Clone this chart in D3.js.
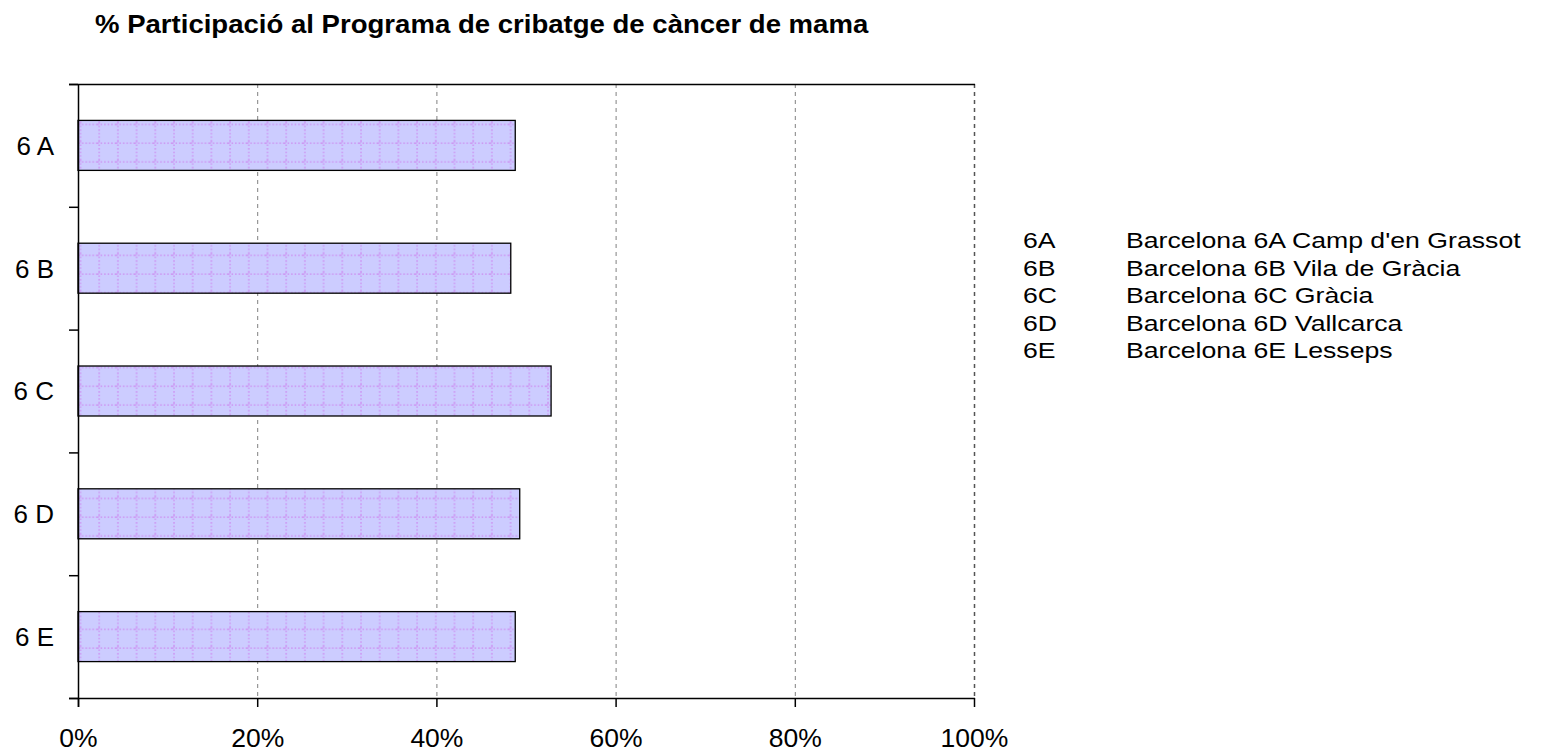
<!DOCTYPE html>
<html>
<head>
<meta charset="utf-8">
<script src="https://cdn.jsdelivr.net/npm/d3@7"></script>
<style>
  body { margin: 0; background: #fff; }
  svg { font-family: "Liberation Sans", Arial, sans-serif; }
</style>
</head>
<body>
<div id="chart"></div>
<script>
	const categories = ["6 A", "6 B", "6 C", "6 D", "6 E"];
	const values = [48.8, 48.3, 52.8, 49.3, 48.8];
	const xTicks = [0, 20, 40, 60, 80, 100];
	const legendCodes = ["6A", "6B", "6C", "6D", "6E"];
	const legendNames = ["Barcelona 6A Camp d'en Grassot", "Barcelona 6B Vila de Gràcia",
		"Barcelona 6C Gràcia", "Barcelona 6D Vallcarca", "Barcelona 6E Lesseps"];

	const W = 1543, H = 754;
	const margin = {top: 84, left: 78};
	const width = 896, height = 614;

	const svg = d3.select("#chart")
	  .append("svg")
	    .attr("width", W)
	    .attr("height", H);

	// bar fill pattern: lilac with dotted grid
	const pat = svg.append("defs").append("pattern")
	    .attr("id", "grid")
	    .attr("patternUnits", "userSpaceOnUse")
	    .attr("width", 18.7)
	    .attr("height", 18.7)
	    .attr("x", 0.5)
	    .attr("y", 1);
	pat.append("rect").attr("width", 18.7).attr("height", 18.7).attr("fill", "#ccccff");
	pat.append("line").attr("x1", 0).attr("x2", 18.7).attr("y1", 2).attr("y2", 2)
	    .attr("stroke", "#cc88f0").attr("stroke-width", 1.2).attr("stroke-dasharray", "1.5,2");
	pat.append("line").attr("x1", 2).attr("x2", 2).attr("y1", 0).attr("y2", 18.7)
	    .attr("stroke", "#cc88f0").attr("stroke-width", 1.2).attr("stroke-dasharray", "1.5,2");

	// title (slightly stretched horizontally as in the original)
	svg.append("text")
	    .attr("transform", "translate(95,33) scale(1.06,1)")
	    .attr("font-size", 26)
	    .attr("font-weight", "bold")
	    .text("% Participació al Programa de cribatge de càncer de mama");

	const g = svg.append("g")
	    .attr("transform", `translate(${margin.left},${margin.top})`);

	const x = d3.scaleLinear()
	  .domain([0, 100])
	  .range([0, width]);

	const y = d3.scaleBand()
	  .domain(categories)
	  .range([0, height])
	  .paddingInner(0.593)
	  .paddingOuter(0.2965);

	// gridlines
	g.selectAll(".grid")
	  .data(xTicks.filter(d => d > 0))
	  .join("line")
	    .attr("x1", d => x(d) + 0.5)
	    .attr("x2", d => x(d) + 0.5)
	    .attr("y1", 0)
	    .attr("y2", height)
	    .attr("stroke", d => d === 100 ? "#555" : "#808080")
	    .attr("stroke-width", d => d === 100 ? 1.5 : 1)
	    .attr("stroke-dasharray", "4,4");

	// top border
	g.append("line")
	    .attr("x1", -9).attr("x2", width + 1)
	    .attr("y1", 0.5).attr("y2", 0.5)
	    .attr("stroke", "#000").attr("stroke-width", 1.5);

	// bars
	g.selectAll(".bar")
	  .data(values)
	  .join("rect")
	    .attr("x", 0)
	    .attr("y", (d, i) => y(categories[i]))
	    .attr("width", d => x(d))
	    .attr("height", y.bandwidth())
	    .attr("fill", "url(#grid)")
	    .attr("stroke", "#000")
	    .attr("stroke-width", 1.3);

	// y axis: ticks between categories
	const yAxis = g.append("g");
	yAxis.append("line")
	    .attr("x1", 0.5).attr("x2", 0.5)
	    .attr("y1", 0).attr("y2", height + 9)
	    .attr("stroke", "#000").attr("stroke-width", 1.5);
	yAxis.selectAll(".ytick")
	  .data(d3.range(categories.length + 1))
	  .join("line")
	    .attr("x1", -9).attr("x2", 0)
	    .attr("y1", i => i * height / categories.length + 0.5)
	    .attr("y2", i => i * height / categories.length + 0.5)
	    .attr("stroke", "#000").attr("stroke-width", 1.5);
	yAxis.selectAll(".ylab")
	  .data(categories)
	  .join("text")
	    .attr("x", -24)
	    .attr("y", d => y(d) + y.bandwidth() / 2)
	    .attr("dy", "0.36em")
	    .attr("text-anchor", "end")
	    .attr("font-size", 26)
	    .text(d => d);

	// x axis
	const xAxis = g.append("g")
	    .attr("transform", `translate(0,${height})`)
	    .call(d3.axisBottom(x).tickValues(xTicks).tickSize(9).tickFormat(d => d + "%"));
	xAxis.select(".domain").attr("stroke-width", 1.5).attr("d", `M-9,0.5H${width + 1}`);
	xAxis.selectAll(".tick line").attr("stroke-width", 1.5);
	xAxis.selectAll(".tick text")
	    .attr("y", 49)
	    .attr("dy", 0)
	    .attr("font-size", 26.5)
	    .attr("font-family", "Liberation Sans, Arial, sans-serif")
	    .attr("fill", "#000");

	// legend (stretched horizontally)
	const legend = svg.append("g").attr("font-size", 21.5);
	legend.selectAll(".code")
	  .data(legendCodes)
	  .join("text")
	    .attr("transform", (d, i) => `translate(1023,${248 + i * 27.5}) scale(1.24,1)`)
	    .text(d => d);
	legend.selectAll(".name")
	  .data(legendNames)
	  .join("text")
	    .attr("transform", (d, i) => `translate(1126,${248 + i * 27.5}) scale(1.24,1)`)
	    .text(d => d);
</script>
</body>
</html>
